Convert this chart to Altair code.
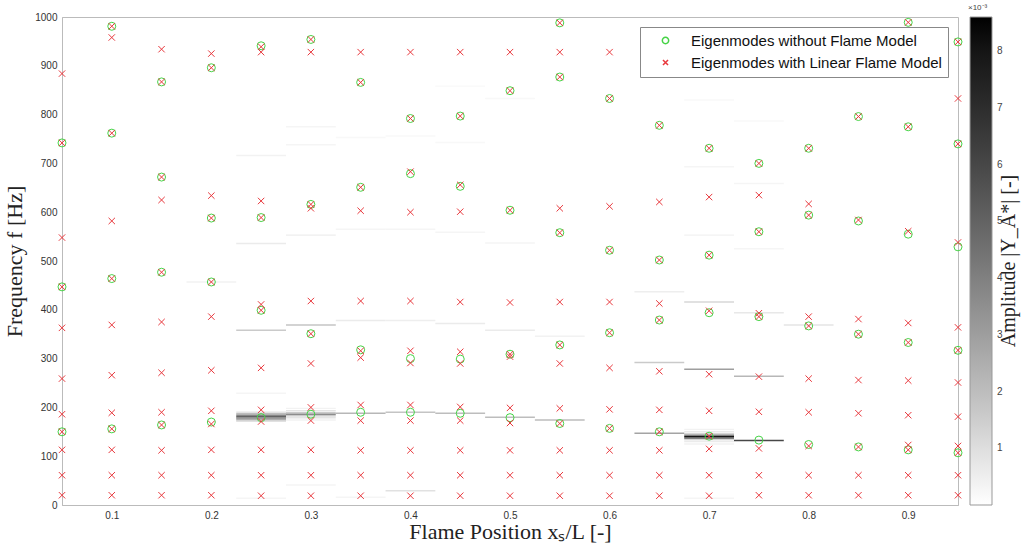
import altair as alt
import pandas as pd

# ---------------- data ----------------
x_positions = [0.05, 0.10, 0.15, 0.20, 0.25, 0.30, 0.35, 0.40, 0.45, 0.50,
               0.55, 0.60, 0.65, 0.70, 0.75, 0.80, 0.85, 0.90, 0.95]

modes_without = [
    [742, 447, 150],
    [981, 762, 464, 156],
    [867, 672, 477, 164],
    [896, 588, 457, 170],
    [941, 589, 399, 179],
    [954, 616, 351, 186],
    [866, 651, 318, 190],
    [792, 679, 300, 190],
    [797, 653, 299, 188],
    [849, 604, 309, 179],
    [988, 877, 558, 328, 167],
    [833, 522, 353, 157],
    [778, 502, 379, 150],
    [731, 512, 394, 141],
    [700, 560, 386, 133],
    [731, 594, 367, 124],
    [796, 582, 350, 119],
    [989, 775, 555, 333, 113],
    [949, 740, 529, 317, 107],
]

modes_with = [
    [884, 742, 548, 447, 363, 259, 186, 150, 113, 61, 20],
    [981, 958, 762, 582, 464, 369, 266, 189, 156, 113, 61, 20],
    [934, 867, 672, 625, 477, 375, 271, 190, 164, 112, 61, 20],
    [925, 896, 634, 588, 457, 386, 276, 193, 166, 113, 61, 20],
    [939, 928, 623, 589, 411, 399, 281, 195, 171, 113, 61, 19],
    [954, 928, 616, 608, 418, 351, 290, 200, 173, 113, 61, 19],
    [928, 866, 651, 603, 418, 316, 302, 205, 173, 112, 61, 19],
    [928, 792, 683, 600, 418, 316, 291, 205, 173, 112, 61, 19],
    [928, 797, 656, 601, 416, 314, 290, 201, 173, 112, 61, 19],
    [928, 849, 604, 415, 309, 304, 199, 168, 112, 61, 19],
    [988, 928, 877, 608, 558, 416, 328, 290, 198, 167, 112, 61, 19],
    [928, 833, 612, 522, 416, 353, 281, 196, 157, 112, 61, 19],
    [778, 621, 502, 413, 379, 274, 195, 150, 112, 61, 19],
    [731, 631, 512, 398, 268, 193, 141, 115, 61, 19],
    [700, 635, 560, 393, 386, 263, 191, 116, 61, 20],
    [731, 617, 594, 386, 367, 259, 190, 121, 61, 20],
    [796, 584, 381, 350, 256, 188, 119, 61, 20],
    [989, 775, 561, 373, 333, 255, 184, 123, 113, 61, 20],
    [949, 833, 740, 538, 364, 317, 251, 181, 121, 107, 61, 20],
]

# amplitude map |Y_A*| (in units of 1e-3): column, frequency row, amplitude
heat_x = ([0.20]
          + [0.25] * 12
          + [0.30] * 12
          + [0.35] * 5
          + [0.40] * 5
          + [0.45] * 5
          + [0.50] * 4
          + [0.55] * 2
          + [0.65] * 3
          + [0.70] * 15
          + [0.75] * 6
          + [0.80])
heat_f = ([457]
          + [14, 172, 175, 178, 181, 184, 187, 190, 229, 358, 536, 716]
          + [41, 174, 179, 183, 186, 189, 193, 198, 369, 553, 738, 775]
          + [16, 188, 378, 565, 753]
          + [29, 190, 378, 565, 756]
          + [188, 372, 559, 743, 858]
          + [180, 358, 537, 833]
          + [174, 346]
          + [147, 292, 437]
          + [14, 125, 130, 134, 137, 140, 143, 146, 150, 155, 278, 416, 553, 693, 830]
          + [132, 264, 394, 525, 659, 787]
          + [369])
heat_amp = ([0.4]
            + [0.3, 1.2, 2.5, 4.0, 5.0, 3.8, 2.0, 0.8, 0.3, 1.6, 0.6, 0.4]
            + [0.3, 0.4, 0.8, 1.6, 3.6, 1.6, 0.8, 0.4, 1.8, 0.5, 0.3, 0.3]
            + [0.3, 2.2, 0.6, 0.3, 0.2]
            + [0.9, 1.8, 0.5, 0.3, 0.2]
            + [2.0, 0.6, 0.3, 0.2, 0.15]
            + [2.0, 0.6, 0.3, 0.2]
            + [2.0, 0.4]
            + [2.8, 1.6, 0.5]
            + [0.3, 0.4, 0.6, 1.2, 4.0, 8.0, 4.0, 1.2, 0.6, 0.4, 3.0, 1.2, 0.4, 0.3, 0.2]
            + [6.0, 2.2, 0.7, 0.3, 0.3, 0.2]
            + [0.8])

series_names = ["Eigenmodes without Flame Model", "Eigenmodes with Linear Flame Model"]
x_ticks = [0.1, 0.2, 0.3, 0.4, 0.5, 0.6, 0.7, 0.8, 0.9]
y_ticks = [0, 100, 200, 300, 400, 500, 600, 700, 800, 900, 1000]
cbar_ticks = [1, 2, 3, 4, 5, 6, 7, 8]
cbar_caption = ["×10⁻³"]
cbar_title = ["Amplitude |Y_A*| [-]"]

# ---------------- styles ----------------
W, H = 896, 488
COL_W = 0.05
ROW_H = 3
GREEN = "#46d346"
RED = "#e8383d"
XPATH = "M-0.8,-0.8L0.8,0.8M-0.8,0.8L0.8,-0.8"
SERIF = "Liberation Serif"
SANS = "Liberation Sans"
TITLE_SIZE = 22

rows = []
for xp, fs in zip(x_positions, modes_without):
    for f in fs:
        rows.append({"x": xp, "f": f, "series": series_names[0]})
for xp, fs in zip(x_positions, modes_with):
    for f in fs:
        rows.append({"x": xp, "f": f, "series": series_names[1]})
pts_df = pd.DataFrame(rows)

heat_df = pd.DataFrame({"x": heat_x, "f": heat_f, "amp": heat_amp})
heat_df = heat_df.sort_values("amp")

x_scale = alt.Scale(domain=[0.05, 0.95], nice=False, zero=False)
y_scale = alt.Scale(domain=[0, 1000], nice=False)

x_axis = alt.Axis(values=x_ticks, format=".1f", title="Flame Position xₛ/L [-]",
                  grid=False, ticks=False, labelPadding=5, titlePadding=1)
y_axis = alt.Axis(values=y_ticks, format="d", title="Frequency f [Hz]",
                  grid=False, ticks=False, labelPadding=5, titlePadding=8)

heat = alt.Chart(heat_df).transform_calculate(
    x0=f"datum.x - {COL_W / 2}", x1=f"datum.x + {COL_W / 2}",
    f0=f"datum.f - {ROW_H / 2}", f1=f"datum.f + {ROW_H / 2}",
).mark_rect(clip=True).encode(
    x=alt.X("x0:Q", scale=x_scale, axis=x_axis),
    x2="x1:Q",
    y=alt.Y("f0:Q", scale=y_scale, axis=y_axis),
    y2="f1:Q",
    fill=alt.Fill("amp:Q",
                  scale=alt.Scale(domain=[0, 8.6], range=["#ffffff", "#000000"], nice=False, zero=True),
                  legend=alt.Legend(
                      title=None, orient="right", direction="vertical",
                      gradientLength=H, gradientThickness=22, values=cbar_ticks, format="d",
                      offset=12, labelFont=SANS, labelFontSize=10, labelColor="#444",
                      labelOffset=5, gradientStrokeColor="#999", gradientStrokeWidth=1)),
)

leg = alt.Legend(title=None, orient="top-right", offset=10, padding=6, rowPadding=6,
                 strokeColor="#888", fillColor="#ffffff", labelFont=SANS, labelFontSize=15,
                 labelColor="#111", labelLimit=400, symbolSize=40,
                 symbolOffset=12, labelOffset=18)

pts = alt.Chart(pts_df).mark_point(filled=False, strokeWidth=1, opacity=1, size=64).encode(
    x=alt.X("x:Q", scale=x_scale, axis=x_axis),
    y=alt.Y("f:Q", scale=y_scale, axis=y_axis),
    shape=alt.Shape("series:N", scale=alt.Scale(domain=series_names, range=["circle", XPATH]), legend=leg),
    color=alt.Color("series:N", scale=alt.Scale(domain=series_names, range=[GREEN, RED]), legend=leg),
)

caption = alt.Chart(pd.DataFrame({"t": cbar_caption})).mark_text(
    align="left", baseline="middle", font=SANS, fontSize=8, color="#444"
).encode(text="t:N", x=alt.value(W + 10), y=alt.value(-9))

ctitle = alt.Chart(pd.DataFrame({"t": cbar_title})).mark_text(
    align="center", baseline="middle", font=SERIF, fontSize=20, color="#222", angle=270
).encode(text="t:N", x=alt.value(W + 51), y=alt.value(H / 2))

chart = alt.layer(heat, pts, caption, ctitle).resolve_scale(
    fill="independent", color="independent", shape="independent"
).properties(
    width=W, height=H,
    autosize=alt.AutoSizeParams(type="none"),
    padding={"left": 62, "top": 17, "right": 66, "bottom": 43},
    background="white",
).configure_view(stroke="#bbb", strokeWidth=1).configure_axis(
    labelFont=SANS, labelFontSize=10, labelColor="#333", domainColor="#bbb",
    titleFont=SERIF, titleFontSize=TITLE_SIZE, titleFontWeight="normal", titleColor="#222",
)

chart.save("out.html", embed_options={"renderer": "svg", "actions": False})
